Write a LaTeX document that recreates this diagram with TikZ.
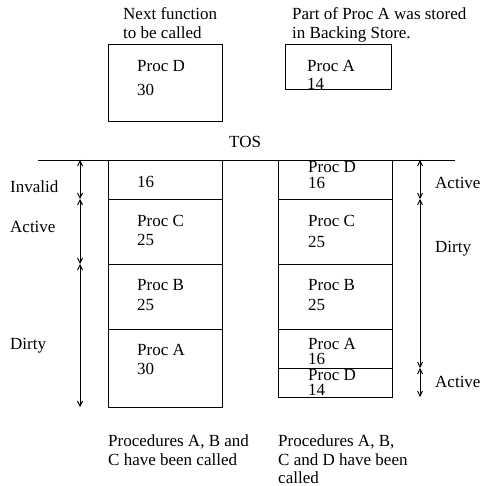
\documentclass[tikz,border=0pt]{standalone}
\usepackage{fontspec}
\setmainfont{Liberation Serif}
\usetikzlibrary{arrows.meta}
\begin{document}
\begin{tikzpicture}[x=1pt,y=-1pt,
  box/.style={draw,line width=0.9pt,inner sep=0,anchor=north west},
  txt/.style={anchor=base west,inner sep=0,font=\fontsize{17}{19.5}\selectfont},
  span/.style={line width=0.9pt,{Straight Barb[length=5pt,width=5pt]}-{Straight Barb[length=5pt,width=5pt]}}]
\useasboundingbox (0,0) rectangle (480,486);

% pending procedure and backing store
\node[txt] (nf1) at (123,20) {Next function};
\node[txt] (nf2) at (123,39) {to be called};
\node[box,minimum width=114,minimum height=77] (nextD) at (108,44) {};
\node[txt] (nextDa) at (137,72) {Proc D};
\node[txt] (nextDb) at (137,96) {30};

\node[txt] (bs1) at (292,20) {Part of Proc A was stored};
\node[txt] (bs2) at (292,39) {in Backing Store.};
\node[box,minimum width=106,minimum height=45] (bsA) at (285,44) {};
\node[txt] (bsAa) at (307,72) {Proc A};
\node[txt] (bsAb) at (307,90) {14};

\node[txt] (tos) at (229,148) {TOS};
\coordinate (tosL) at (38,160);
\coordinate (tosR) at (455,160);
\draw[line width=0.9pt] (tosL) -- (tosR);

% left stack: A, B and C called
\node[box,minimum width=114,minimum height=39] (L1) at (108,160) {};
\node[box,minimum width=114,minimum height=65] (L2) at (108,199) {};
\node[box,minimum width=114,minimum height=65] (L3) at (108,264) {};
\node[box,minimum width=114,minimum height=78] (L4) at (108,329) {};
\node[txt] at (137,187) {16};
\node[txt] at (137,226) {Proc C};
\node[txt] at (137,245) {25};
\node[txt] at (137,290) {Proc B};
\node[txt] at (137,310) {25};
\node[txt] at (137,355) {Proc A};
\node[txt] at (137,374) {30};

\coordinate (la0) at (80,160);
\coordinate (la1) at (80,199);
\coordinate (la2) at (80,264);
\coordinate (la3) at (80,407);
\draw[span] (la0) -- (la1);
\draw[span] (la1) -- (la2);
\draw[span] (la2) -- (la3);
\node[txt] at (10,193) {Invalid};
\node[txt] at (10,232) {Active};
\node[txt] at (10,349) {Dirty};

% right stack: A, B, C and D called
\node[box,minimum width=114,minimum height=39] (R1) at (278,160) {};
\node[box,minimum width=114,minimum height=65] (R2) at (278,199) {};
\node[box,minimum width=114,minimum height=65] (R3) at (278,264) {};
\node[box,minimum width=114,minimum height=39] (R4) at (278,329) {};
\node[box,minimum width=114,minimum height=29] (R5) at (278,368) {};
\node[txt] at (308,172) {Proc D};
\node[txt] at (308,189) {16};
\node[txt] at (308,226) {Proc C};
\node[txt] at (308,247) {25};
\node[txt] at (308,290) {Proc B};
\node[txt] at (308,310) {25};
\node[txt] at (308,349) {Proc A};
\node[txt] at (308,364) {16};
\node[txt] at (308,380) {Proc D};
\node[txt] at (308,395) {14};

\coordinate (ra0) at (420,160);
\coordinate (ra1) at (420,199);
\coordinate (ra2) at (420,368);
\coordinate (ra3) at (420,397);
\draw[span] (ra0) -- (ra1);
\draw[span] (ra1) -- (ra2);
\draw[span] (ra2) -- (ra3);
\node[txt] at (435,188) {Active};
\node[txt] at (435,252) {Dirty};
\node[txt] at (435,387) {Active};

% captions
\node[txt] at (108,446) {Procedures A, B and};
\node[txt] at (108,465) {C have been called};
\node[txt] at (278,446) {Procedures A, B,};
\node[txt] at (278,465) {C and D have been};
\node[txt] at (278,483) {called};
\end{tikzpicture}
\end{document}
